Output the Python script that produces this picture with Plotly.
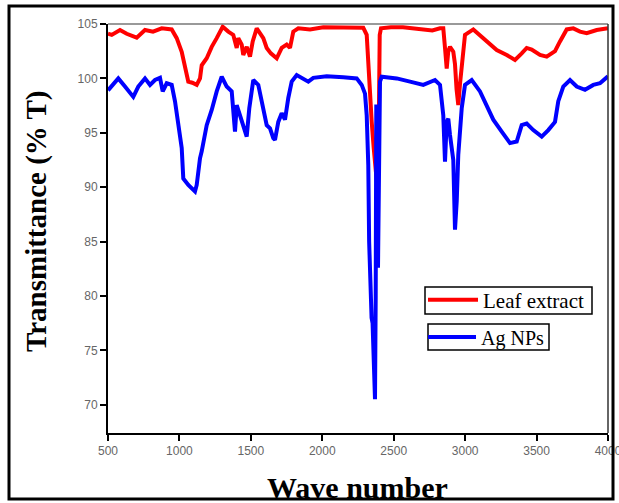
import plotly.graph_objects as go

# Leaf extract (red)
wn_leaf = [500, 526, 584, 631, 701, 759, 815, 876, 946, 981, 1016, 1039, 1062, 1090, 1121,
           1144, 1156, 1191, 1226, 1261, 1303, 1342, 1377, 1401, 1412, 1436, 1447, 1471, 1494,
           1513, 1541, 1587, 1611, 1640, 1681, 1716, 1751, 1774, 1797, 1832, 1914, 2007, 2100,
           2194, 2287, 2311, 2322, 2334, 2346, 2360, 2375, 2386, 2395, 2402, 2411, 2480, 2565,
           2640, 2705, 2770, 2824, 2847, 2859, 2871, 2882, 2894, 2917, 2929, 2940, 2952, 2964,
           2976, 2999, 3057, 3127, 3221, 3291, 3349, 3396, 3431, 3466, 3524, 3571, 3629, 3664,
           3711, 3757, 3804, 3851, 3921, 4000]
t_leaf = [104.1, 104.0, 104.45, 104.1, 103.75, 104.45, 104.3, 104.6, 104.5, 103.7, 102.45, 100.9,
          99.7, 99.6, 99.4, 100.0, 101.2, 101.85, 102.9, 103.7, 104.75, 104.3, 104.0, 102.8, 103.7,
          103.1, 102.15, 102.9, 102.0, 103.4, 104.6, 103.7, 102.8, 102.3, 101.85, 102.8, 103.1,
          102.8, 104.3, 104.6, 104.5, 104.7, 104.7, 104.7, 104.65, 104.0, 101.2, 97.6, 96.0, 93.6,
          91.0, 89.9, 95.0, 104.0, 104.6, 104.7, 104.7, 104.6, 104.5, 104.4, 104.6, 104.6, 102.8,
          100.9, 102.5, 102.9, 102.45, 101.3, 99.0, 97.55, 99.5, 101.2, 104.0, 104.5, 103.7, 102.6,
          102.15, 101.7, 102.3, 102.8, 102.65, 102.15, 102.0, 102.5, 103.4, 104.5, 104.6, 104.3,
          104.15, 104.45, 104.6]

# Ag NPs (blue)
wn_ag = [500, 526, 572, 619, 677, 712, 759, 794, 829, 864, 883, 911, 946, 969, 992, 1016, 1027,
         1062, 1109, 1121, 1144, 1156, 1191, 1226, 1261, 1296, 1331, 1366, 1389, 1401, 1424, 1447,
         1471, 1489, 1517, 1552, 1587, 1611, 1634, 1657, 1669, 1692, 1716, 1739, 1762, 1786, 1821,
         1867, 1902, 1937, 2031, 2147, 2241, 2276, 2299, 2311, 2322, 2328, 2335, 2345, 2352, 2362,
         2369, 2374, 2378, 2384, 2390, 2396, 2404, 2416, 2521, 2614, 2707, 2789, 2824, 2847, 2859,
         2871, 2882, 2894, 2917, 2929, 2941, 2952, 2976, 2999, 3046, 3104, 3151, 3197, 3256, 3314,
         3361, 3396, 3431, 3477, 3536, 3582, 3629, 3652, 3687, 3734, 3781, 3839, 3897, 3944, 4000]
t_ag = [98.9, 99.25, 100.0, 99.25, 98.3, 99.25, 100.0, 99.4, 99.85, 100.05, 98.8, 99.55, 99.4,
        97.9, 96.0, 93.6, 90.8, 90.2, 89.6, 90.2, 92.65, 93.3, 95.7, 97.1, 98.8, 100.15, 99.25,
        98.8, 95.1, 97.55, 96.6, 95.7, 94.65, 97.25, 99.85, 99.4, 97.25, 95.7, 95.4, 94.5, 94.35,
        96.0, 96.8, 96.2, 98.2, 99.7, 100.3, 100.0, 99.7, 100.05, 100.2, 100.1, 100.0, 99.4, 98.6,
        96.6, 92.0, 85.0, 81.5, 78.0, 77.5, 74.0, 70.5, 80.0, 97.6, 90.0, 82.6, 90.0, 99.7, 100.15,
        100.0, 99.7, 99.4, 99.85, 99.4, 96.6, 92.35, 96.0, 96.3, 94.8, 92.5, 86.1, 88.7, 93.0,
        97.25, 99.4, 99.85, 98.8, 97.55, 96.2, 95.1, 94.05, 94.2, 95.7, 95.85, 95.25, 94.65, 95.25,
        96.0, 97.9, 99.25, 99.85, 99.25, 98.95, 99.4, 99.55, 100.2]

x_ticks = [500, 1000, 1500, 2000, 2500, 3000, 3500, 4000]
y_ticks = [70, 75, 80, 85, 90, 95, 100, 105]

# plot-area geometry (pixels) used to place decorations in paper coordinates
W, H = 619, 503
L, R, T, B = 108, 11, 24, 70
PW, PH = W - L - R, H - T - B


def px(x):
    return (x - L) / PW


def py(y):
    return (H - B - y) / PH


fig = go.Figure()
fig.add_trace(go.Scatter(x=wn_leaf, y=t_leaf, mode="lines", name="Leaf extract",
                         line=dict(color="#ff0000", width=4), legend="legend"))
fig.add_trace(go.Scatter(x=wn_ag, y=t_ag, mode="lines", name="Ag NPs",
                         line=dict(color="#0000ff", width=4), legend="legend2"))

serif = "Liberation Serif, Times New Roman, serif"
tickfont = dict(family="Liberation Sans, Arial, sans-serif", size=12, color="#666666")

fig.update_layout(
    width=W, height=H,
    margin=dict(l=L, r=R, t=T, b=B, autoexpand=False),
    paper_bgcolor="white", plot_bgcolor="white",
    showlegend=True,
    legend=dict(x=px(423), y=py(300), xanchor="left", yanchor="middle",
                borderwidth=0, bgcolor="rgba(0,0,0,0)",
                font=dict(family=serif, size=21, color="black"),
                tracegroupgap=0, itemwidth=50),
    legend2=dict(x=px(423), y=py(337), xanchor="left", yanchor="middle",
                 borderwidth=0, bgcolor="rgba(0,0,0,0)",
                 font=dict(family=serif, size=20, color="black"),
                 tracegroupgap=0, itemwidth=48),
    xaxis=dict(range=[500, 4000], tickvals=x_ticks, ticktext=[str(v) for v in x_ticks],
               showgrid=False, zeroline=False, showline=True, linecolor="black", linewidth=2,
               ticks="outside", ticklen=6, tickwidth=1.5, tickcolor="black", tickfont=tickfont,
               ticklabeloverflow="allow", automargin=False),
    yaxis=dict(range=[67.4, 105], tickvals=y_ticks, ticktext=[str(v) for v in y_ticks],
               showgrid=False, zeroline=False, showline=True, linecolor="black", linewidth=2,
               ticks="outside", ticklen=6, tickwidth=1.5, tickcolor="black", tickfont=tickfont,
               ticklabeloverflow="allow", automargin=False),
)

fig.add_annotation(text="Wave number", xref="paper", yref="paper", x=px(357), y=py(487),
                   xanchor="center", yanchor="middle", showarrow=False,
                   font=dict(family=serif, size=30, color="black", weight="bold"))
fig.add_annotation(text="Transmittance (% T)", xref="paper", yref="paper", x=px(36), y=py(221),
                   xanchor="center", yanchor="middle", showarrow=False, textangle=-90,
                   font=dict(family=serif, size=29, color="black", weight="bold"))

# top and right frame lines of the plot area
fig.add_shape(type="line", xref="paper", yref="paper", x0=0, x1=1, y0=1, y1=1,
              line=dict(color="#777777", width=1.5))
fig.add_shape(type="line", xref="paper", yref="paper", x0=1, x1=1, y0=0, y1=1,
              line=dict(color="#333333", width=1.5))
# legend boxes
fig.add_shape(type="rect", xref="paper", yref="paper", x0=px(425), x1=px(592),
              y0=py(314), y1=py(287), line=dict(color="black", width=1.5))
fig.add_shape(type="rect", xref="paper", yref="paper", x0=px(428), x1=px(549),
              y0=py(350), y1=py(324), line=dict(color="black", width=1.5))
# outer figure frame
fig.add_shape(type="rect", xref="paper", yref="paper", x0=px(9), x1=px(613),
              y0=py(499), y1=py(6), line=dict(color="black", width=3), layer="above")

fig.write_html("out.html", config={"displayModeBar": False},
               post_script="document.body.style.margin='0';document.body.style.overflow='hidden';")
